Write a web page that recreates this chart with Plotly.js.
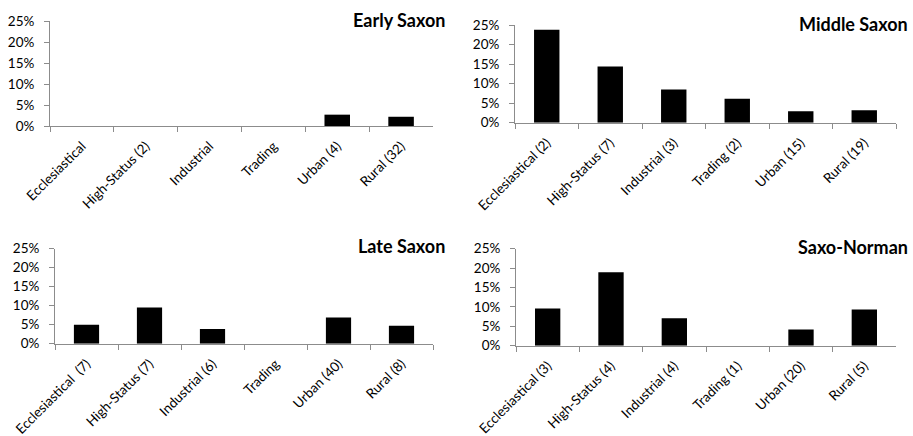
<!DOCTYPE html>
<html><head><meta charset="utf-8">
<script src="https://cdn.plot.ly/plotly-3.0.1.min.js"></script>
<style>html,body{margin:0;padding:0;background:#fff}#chart{width:913px;height:436px}</style>
</head><body><div id="chart"></div>
<script>
const earlyLabels = ["Ecclesiastical", "High-Status (2)", "Industrial", "Trading", "Urban (4)", "Rural (32)"];
const earlyValues = [0, 0, 0, 0, 2.7, 2.2];
const middleLabels = ["Ecclesiastical (2)", "High-Status (7)", "Industrial (3)", "Trading (2)", "Urban (15)", "Rural (19)"];
const middleValues = [23.8, 14.4, 8.5, 6.1, 2.9, 3.2];
const lateLabels = ["Ecclesiastical  (7)", "High-Status (7)", "Industrial (6)", "Trading", "Urban (40)", "Rural (8)"];
const lateValues = [5.0, 9.5, 3.9, 0, 6.9, 4.7];
const normanLabels = ["Ecclesiastical (3)", "High-Status (4)", "Industrial (4)", "Trading (1)", "Urban (20)", "Rural (5)"];
const normanValues = [9.6, 18.9, 7.1, 0, 4.2, 9.3];
const panelTitles = ["Early Saxon", "Middle Saxon", "Late Saxon", "Saxo-Norman"];
const yTicks = [0, 5, 10, 15, 20, 25];
const yTickText = ["0%", "5%", "10%", "15%", "20%", "25%"];

const W = 913, H = 436;
const boxes = [
  {x0: 50, x1: 433, yTop: 21, yBot: 126},
  {x0: 515, x1: 896, yTop: 25, yBot: 122.7},
  {x0: 55, x1: 433, yTop: 248.7, yBot: 343.7},
  {x0: 516, x1: 896, yTop: 248.7, yBot: 345.7}
];
const titleRight = [447, 910, 447, 910];
const titleY = [20, 24, 246, 247];
const labelSets = [earlyLabels, middleLabels, lateLabels, normanLabels];
const valueSets = [earlyValues, middleValues, lateValues, normanValues];

const FONT = "Lato, 'Open Sans', sans-serif";
const data = [];
const layout = {
  width: W, height: H,
  margin: {l: 0, r: 0, t: 0, b: 0},
  paper_bgcolor: "#fff", plot_bgcolor: "rgba(0,0,0,0)",
  showlegend: false, bargap: 0.6,
  font: {family: FONT, size: 13.5, color: "#000"},
  annotations: []
};
for (let i = 0; i < 4; i++) {
  const n = i === 0 ? "" : String(i + 1);
  data.push({
    type: "bar", x: labelSets[i], y: valueSets[i],
    xaxis: "x" + n, yaxis: "y" + n,
    marker: {color: "#000", line: {width: 0}},
    hoverinfo: "skip"
  });
  const b = boxes[i];
  layout["xaxis" + n] = {
    domain: [b.x0 / W, b.x1 / W], anchor: "y" + n,
    type: "category", tickson: "boundaries",
    showline: true, linecolor: "#8c8c8c", linewidth: 1,
    ticks: "outside", ticklen: 5, tickcolor: "#8c8c8c",
    tickangle: -45, showgrid: false, zeroline: false,
    ticklabelstandoff: 6,
    tickfont: {family: FONT, size: 13.5, color: "#000"},
    fixedrange: true
  };
  layout["yaxis" + n] = {
    domain: [1 - b.yBot / H, 1 - b.yTop / H], anchor: "x" + n,
    range: [0, 25], tickvals: yTicks, ticktext: yTickText,
    showline: true, linecolor: "#8c8c8c", linewidth: 1,
    ticks: "outside", ticklen: 5, tickcolor: "#8c8c8c",
    showgrid: false, zeroline: false,
    ticklabelstandoff: 7,
    tickfont: {family: FONT, size: 13.5, color: "#000"},
    fixedrange: true
  };
  layout.annotations.push({
    text: "<b>" + panelTitles[i] + "</b>", xref: "paper", yref: "paper",
    x: titleRight[i] / W, y: 1 - titleY[i] / H, xanchor: "right", yanchor: "middle",
    showarrow: false, font: {family: FONT, size: 18, color: "#000"}
  });
}
Plotly.newPlot("chart", data, layout, {displayModeBar: false, staticPlot: true});
</script></body></html>
